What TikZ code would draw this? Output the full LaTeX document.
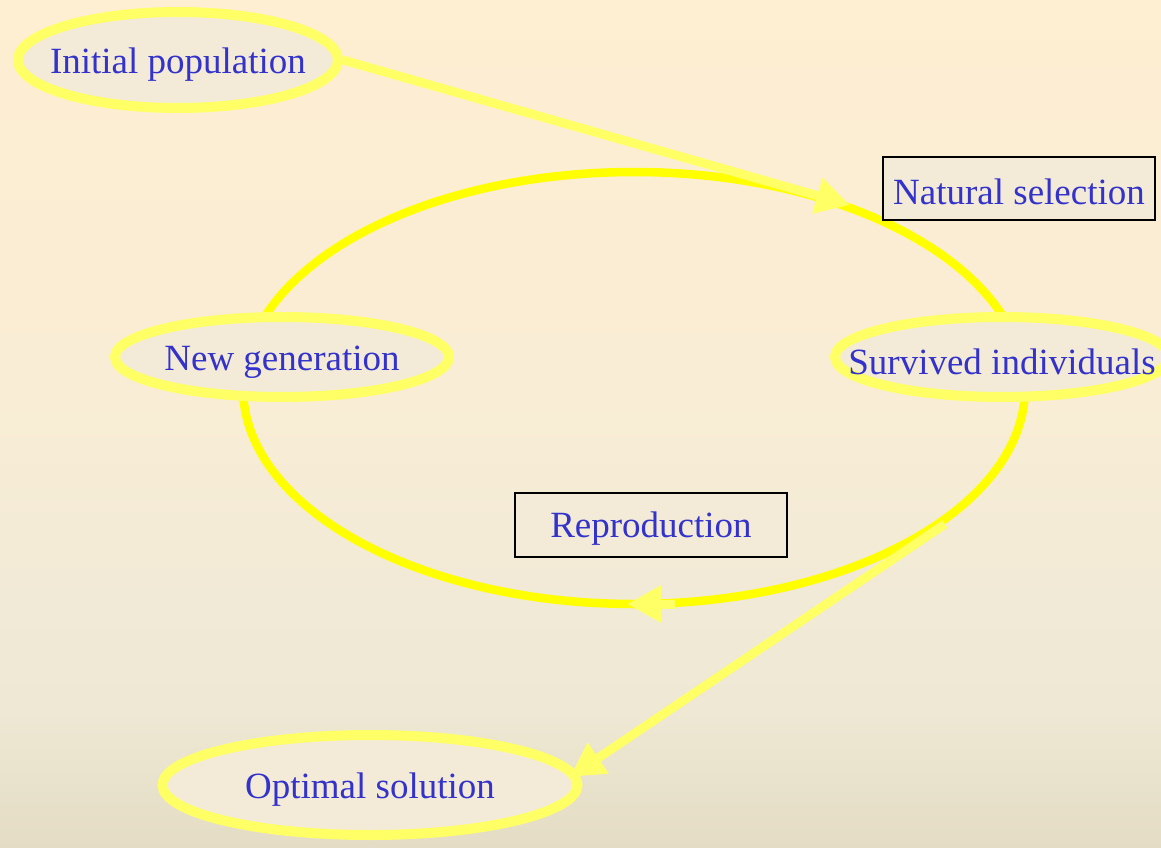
\documentclass[tikz,border=0pt]{standalone}
\usepackage{fontspec}
\setmainfont{Liberation Serif}
\usetikzlibrary{shapes.geometric,arrows.meta}
\definecolor{bgtop}{RGB}{254,238,210}
\definecolor{bgmidup}{RGB}{249,237,213}
\definecolor{bgmid}{RGB}{241,234,214}
\definecolor{bglow}{RGB}{238,232,212}
\definecolor{bgbot}{RGB}{228,220,196}
\definecolor{loopyel}{RGB}{255,255,0}
\definecolor{lightyel}{RGB}{255,255,102}
\definecolor{nodefill}{RGB}{243,235,216}
\definecolor{txtblue}{RGB}{51,51,204}
\pgfdeclareverticalshading{bgshade}{100bp}{color(0bp)=(bgbot); color(25bp)=(bgbot); color(33bp)=(bglow); color(39.6bp)=(bgmid); color(51.4bp)=(bgmidup); color(75bp)=(bgtop); color(100bp)=(bgtop)}
\tikzset{
  txt/.style={text=txtblue, font=\fontsize{37}{44}\selectfont},
  oval/.style={ellipse, draw=lightyel, line width=10pt, fill=nodefill, inner sep=0pt},
  ovaltext/.style={label={[txt, yshift=-5pt]center:#1}},
  labelbox/.style={rectangle, draw=black, line width=2pt, fill=nodefill, inner sep=0pt, minimum width=272pt, minimum height=63pt},
  flow/.style={draw=lightyel, line width=9pt, -{Triangle[length=34pt,width=35pt]}, color=lightyel},
}
\begin{document}
\begin{tikzpicture}[x=1pt,y=-1pt]
\useasboundingbox (0,0) rectangle (1161,848);
\clip (0,0) rectangle (1161,848);
\shade[shading=bgshade] (0,0) rectangle (1161,848);
% main loop
\draw[loopyel, line width=8.5pt] (634,388) ellipse [x radius=391, y radius=216];
% connectors and nodes
\coordinate (selin) at (850,205);
\coordinate (loopbot) at (675,604);
\coordinate (loopbotend) at (627,604);
\coordinate (loopout) at (945,524);
\coordinate (opttip) at (570,777);
\node[oval, minimum width=320pt, minimum height=96pt, ovaltext={Initial population}] (init) at (178,60) {};
\draw[flow] (init.east) -- (selin);
\draw[flow] (loopbot) -- (loopbotend);
\node[oval, minimum width=415pt, minimum height=100pt, ovaltext={Optimal solution}] (opt) at (370,785) {};
\draw[flow] (loopout) -- (opttip);
\node[oval, minimum width=334pt, minimum height=80pt, ovaltext={New generation}] (newgen) at (282,357) {};
\node[oval, minimum width=334pt, minimum height=80pt, ovaltext={Survived individuals}] (surv) at (1002,357) {};
\node[labelbox] (natsel) at (1019,188.5) {};
\node[txt, yshift=-3pt] (natseltext) at (natsel.center) {Natural selection};
\node[labelbox, minimum height=64pt] (repro) at (651,525) {};
\node[txt, yshift=-4pt] (reprotext) at (repro.center) {Reproduction};
\end{tikzpicture}
\end{document}
